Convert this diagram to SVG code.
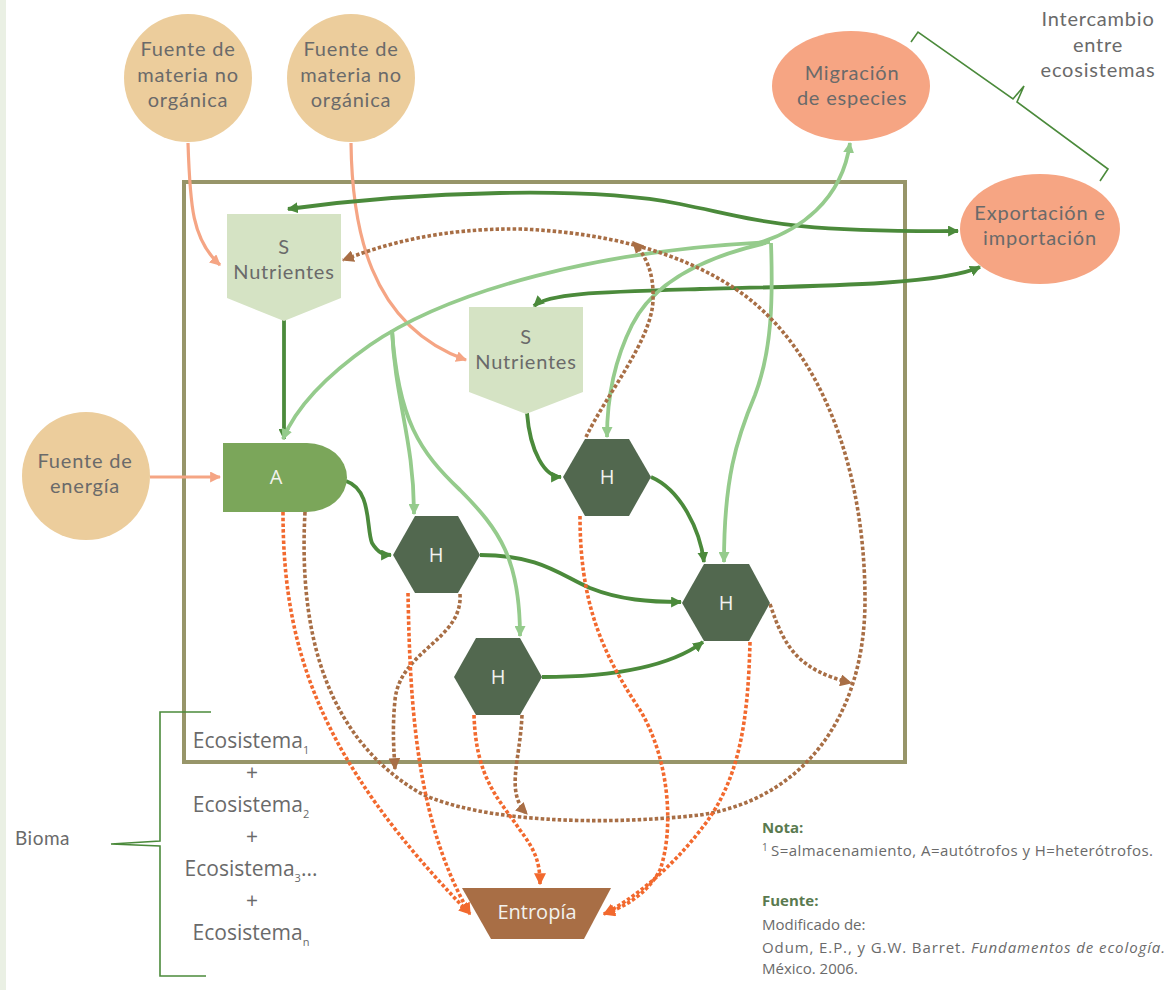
<svg xmlns="http://www.w3.org/2000/svg" width="1176" height="990" viewBox="0 0 1176 990">
<defs>
<style>
.t{font-family:Lato,"Open Sans","Liberation Sans",sans-serif;fill:#6a6a6a;font-size:20px;letter-spacing:0.8px;text-anchor:middle}
.e{font-family:"Open Sans","Noto Sans","Liberation Sans",sans-serif;fill:#6a6a6a;font-size:21px;text-anchor:middle}
.tw{font-family:"Open Sans","Noto Sans","Liberation Sans",sans-serif;fill:#f2f2ee;font-size:20px;text-anchor:middle}
.n{font-family:"Open Sans","Noto Sans","Liberation Sans",sans-serif;fill:#6a6a6a;font-size:15px}
.nb{font-family:"Open Sans","Noto Sans","Liberation Sans",sans-serif;fill:#5a7a4f;font-size:15px;font-weight:bold}
.src{fill:#eccd9c}
.ell{fill:#f6a583}
.stor{fill:#d5e3c4}
.hex{fill:#52684f}
.sal{fill:none;stroke:#f5a584;stroke-width:3.2}
.dg{fill:none;stroke:#4b8a3b;stroke-width:3.8}
.lg{fill:none;stroke:#95cb8c;stroke-width:3.8}
.br{fill:none;stroke:#a86e45;stroke-width:3.6;stroke-dasharray:3.5 2.2}
.or{fill:none;stroke:#f2692e;stroke-width:3.6;stroke-dasharray:3.5 2.2}
.brk{fill:none;stroke:#4b8a3b;stroke-width:1.6}
</style>
<marker id="aSal" viewBox="0 0 10 10" refX="9" refY="5" markerWidth="11" markerHeight="11" markerUnits="userSpaceOnUse" orient="auto"><path d="M0,0 L10,5 L0,10 z" fill="#f5a584"/></marker>
<marker id="aDg" viewBox="0 0 10 10" refX="9" refY="5" markerWidth="11" markerHeight="11" markerUnits="userSpaceOnUse" orient="auto-start-reverse"><path d="M0,0 L10,5 L0,10 z" fill="#4b8a3b"/></marker>
<marker id="aLg" viewBox="0 0 10 10" refX="9" refY="5" markerWidth="11" markerHeight="11" markerUnits="userSpaceOnUse" orient="auto"><path d="M0,0 L10,5 L0,10 z" fill="#95cb8c"/></marker>
<marker id="aBr" viewBox="0 0 10 10" refX="9" refY="5" markerWidth="12" markerHeight="12" markerUnits="userSpaceOnUse" orient="auto"><path d="M0,0 L10,5 L0,10 z" fill="#a86e45"/></marker>
<marker id="aOr" viewBox="0 0 10 10" refX="9" refY="5" markerWidth="12" markerHeight="12" markerUnits="userSpaceOnUse" orient="auto"><path d="M0,0 L10,5 L0,10 z" fill="#f2692e"/></marker>
</defs>
<rect x="0" y="0" width="1176" height="990" fill="#ffffff"/>
<rect x="0" y="0" width="6" height="990" fill="#eaf0e4"/>

<g id="ecosystem-box"><rect x="184" y="182" width="721" height="580" fill="none" stroke="#979569" stroke-width="4"/></g>

<g id="connectors">
<path class="sal" d="M188,143 C190,205 192,240 220,265" marker-end="url(#aSal)"/>
<path class="sal" d="M351,143 C352,225 368,325 466,360" marker-end="url(#aSal)"/>
<path class="sal" d="M150,477 L220,477" marker-end="url(#aSal)"/>
<path class="dg" d="M288,209 C420,191 590,186 680,204 C760,220 780,232 958,231" marker-start="url(#aDg)" marker-end="url(#aDg)"/>
<path class="dg" d="M534,306 C548,293 600,292 700,289 C820,286 940,285 980,267" marker-start="url(#aDg)" marker-end="url(#aDg)"/>
<path class="dg" d="M284,320 L284,439" marker-end="url(#aDg)"/>
<path class="dg" d="M346,481 C372,490 366,528 372,543 C378,553 384,555 391,555" marker-end="url(#aDg)"/>
<path class="dg" d="M480,555 C540,555 560,575 590,588 C620,600 650,602 681,602" marker-end="url(#aDg)"/>
<path class="dg" d="M542,677 C620,677 672,665 703,642" marker-end="url(#aDg)"/>
<path class="dg" d="M527,413 C530,452 545,477 561,477" marker-end="url(#aDg)"/>
<path class="dg" d="M651,477 C681,490 700,530 704,562" marker-end="url(#aDg)"/>
<path class="lg" d="M752,245 C800,232 842,200 850,143" marker-end="url(#aLg)"/>
<path class="lg" d="M770,242 C600,250 450,290 370,345 C320,380 295,410 283,439" marker-end="url(#aLg)"/>
<path class="lg" d="M766,243 C700,258 652,285 632,325 C612,365 607,405 607,437" marker-end="url(#aLg)"/>
<path class="lg" d="M771,243 C773,300 772,350 755,395 C736,440 724,480 724,562" marker-end="url(#aLg)"/>
<path class="lg" d="M392,330 C395,400 414,440 414,514" marker-end="url(#aLg)"/>
<path class="lg" d="M392,330 C398,420 420,452 460,490 C500,530 520,560 520,636" marker-end="url(#aLg)"/>
<path class="br" d="M305,512 C298,640 330,740 420,793 C480,822 600,826 700,815 C800,800 865,720 865,600 C865,470 822,350 740,292 C680,250 600,232 520,229 C440,228 385,244 343,260" marker-end="url(#aBr)"/>
<path class="br" d="M586,437 C606,395 652,340 653,300 C654,272 646,256 633,242" marker-end="url(#aBr)"/>
<path class="br" d="M770,604 C785,650 800,670 851,683" marker-end="url(#aBr)"/>
<path class="br" d="M460,594 C463,640 400,650 395,700 C392,730 394,752 395,769" marker-end="url(#aBr)"/>
<path class="br" d="M522,715 C520,762 505,792 527,814" marker-end="url(#aBr)"/>
<path class="or" d="M283,512 C283,650 320,760 470,914" marker-end="url(#aOr)"/>
<path class="or" d="M408,593 C410,700 415,820 470,914" marker-end="url(#aOr)"/>
<path class="or" d="M474,715 C476,780 500,800 520,830 C535,850 540,862 540,884" marker-end="url(#aOr)"/>
<path class="or" d="M580,516 C580,600 600,650 640,710 C670,760 674,830 660,870 C648,893 625,907 604,914" marker-end="url(#aOr)"/>
<path class="or" d="M750,642 C748,720 740,780 702,828 C672,868 632,900 604,914" marker-end="url(#aOr)"/>
</g>

<g id="src-materia-1"><circle class="src" cx="188" cy="78" r="64"/>
<text class="t"><tspan x="188" y="56">Fuente de</tspan><tspan x="188" y="82">materia no</tspan><tspan x="188" y="107">orgánica</tspan></text></g>
<g id="src-materia-2"><circle class="src" cx="351" cy="78" r="64"/>
<text class="t"><tspan x="351" y="56">Fuente de</tspan><tspan x="351" y="82">materia no</tspan><tspan x="351" y="107">orgánica</tspan></text></g>
<g id="src-energia"><circle class="src" cx="86" cy="476" r="64"/>
<text class="t"><tspan x="85" y="468">Fuente de</tspan><tspan x="85" y="493">energía</tspan></text></g>

<g id="migracion"><ellipse class="ell" cx="851" cy="86" rx="79" ry="55"/>
<text class="t"><tspan x="852" y="80">Migración</tspan><tspan x="852" y="105">de especies</tspan></text></g>
<g id="exportacion"><ellipse class="ell" cx="1040" cy="229" rx="80" ry="55"/>
<text class="t"><tspan x="1040" y="220">Exportación e</tspan><tspan x="1040" y="245">importación</tspan></text></g>

<g id="intercambio"><path class="brk" d="M911,42 L918,32 L1013,99 L1024,86 L1017,102 L1108,169 L1100,181"/>
<text class="t"><tspan x="1098" y="26">Intercambio</tspan><tspan x="1098" y="52">entre</tspan><tspan x="1098" y="77">ecosistemas</tspan></text></g>

<g id="s-nutrientes-1"><path class="stor" d="M227,214 H341 V298 L284,321 L227,298 Z"/>
<text class="t"><tspan x="284" y="254">S</tspan><tspan x="284" y="279">Nutrientes</tspan></text></g>
<g id="s-nutrientes-2"><path class="stor" d="M469,307 H583 V392 L526,414 L469,392 Z"/>
<text class="t"><tspan x="526" y="344">S</tspan><tspan x="526" y="369">Nutrientes</tspan></text></g>

<g id="autotrofos"><path d="M223,443 H307 A40,34.5 0 0 1 307,512 H223 Z" fill="#7ba65a"/>
<text class="tw" x="276" y="484">A</text></g>

<g id="h1"><path class="hex" d="M563,477 L585,439 L629,439 L651,477 L629,516 L585,516 Z"/><text class="tw" x="607" y="484">H</text></g>
<g id="h2"><path class="hex" d="M682,603 L704,564 L749,564 L770,603 L749,641 L704,641 Z"/><text class="tw" x="726" y="610">H</text></g>
<g id="h3"><path class="hex" d="M393,555 L415,516 L458,516 L480,555 L458,593 L415,593 Z"/><text class="tw" x="436" y="562">H</text></g>
<g id="h4"><path class="hex" d="M454,677 L476,638 L520,638 L542,677 L520,715 L476,715 Z"/><text class="tw" x="498" y="684">H</text></g>

<g id="entropia"><path d="M462,888 H611 L584,939 H491 Z" fill="#a86e45"/>
<text class="tw" x="537" y="919">Entropía</text></g>

<g id="bioma"><path class="brk" d="M211,712 H160 V841 L111,844 L160,846 V976 H206"/>
<text class="t" x="15" y="845" style="text-anchor:start;font-size:19px;letter-spacing:0.5px">Bioma</text>
<text class="e" x="251" y="748">Ecosistema<tspan font-size="11" dy="6">1</tspan></text>
<text class="e" x="252" y="780">+</text>
<text class="e" x="251" y="812">Ecosistema<tspan font-size="11" dy="6">2</tspan></text>
<text class="e" x="252" y="844">+</text>
<text class="e" x="251" y="876">Ecosistema<tspan font-size="11" dy="6">3</tspan><tspan dy="-6">...</tspan></text>
<text class="e" x="252" y="908">+</text>
<text class="e" x="251" y="940">Ecosistema<tspan font-size="11" dy="6">n</tspan></text></g>

<g id="notes">
<text class="nb" x="762" y="833">Nota:</text>
<text class="n" x="762" y="851" style="font-size:10px">1</text>
<text class="n" x="771" y="856" textLength="382" lengthAdjust="spacing">S=almacenamiento, A=autótrofos y H=heterótrofos.</text>
<text class="nb" x="762" y="906">Fuente:</text>
<text class="n" x="762" y="930">Modificado de:</text>
<text class="n" x="762" y="953" textLength="403" lengthAdjust="spacing">Odum, E.P., y G.W. Barret. <tspan font-style="italic">Fundamentos de ecología.</tspan></text>
<text class="n" x="762" y="974">México. 2006.</text>
</g>
</svg>
